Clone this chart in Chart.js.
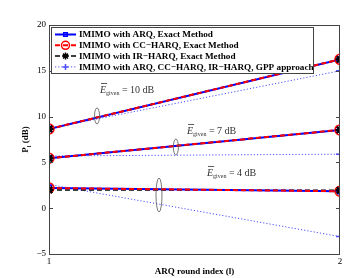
<!DOCTYPE html>
<html>
<head>
<meta charset="UTF-8">
<script src="https://cdn.jsdelivr.net/npm/chart.js"></script>
<style>
  html, body { margin: 0; padding: 0; background: #fff; }
  #wrap { width: 348px; height: 278px; }
</style>
</head>
<body>
<div id="wrap"><canvas id="grafico"></canvas></div>
<script>
// ARQ round index
const rounds = [1, 2];
const yTicks = [-5, 0, 5, 10, 15, 20];

// E_given = 10 dB
const arq10 = [8.65, 16.25];
const cc10 = [8.65, 16.25];
const ir10 = [8.65, 16.25];
const gpp10 = [8.7, 15.0];
// E_given = 7 dB
const arq7 = [5.45, 8.55];
const cc7 = [5.45, 8.55];
const ir7 = [5.45, 8.55];
const gpp7 = [5.7, 5.9];
// E_given = 4 dB
const arq4 = [2.2, 1.85];
const cc4 = [2.2, 1.85];
const ir4 = [2.0, 1.95];
const gpp4 = [2.6, -3.1];

const legendLabels = [
  'IMIMO with ARQ, Exact Method',
  'IMIMO with CC\u2212HARQ, Exact Method',
  'IMIMO with IR\u2212HARQ, Exact Method',
  'IMIMO with ARQ, CC\u2212HARQ, IR\u2212HARQ, GPP approach'
];
const energyLabels = ['10 dB', '7 dB', '4 dB'];

const styles = {
  arq: { color: '#0000ff', dash: [], width: 2, point: 'rect', r: 3.5 },
  cc:  { color: '#ff0000', dash: [5, 3], width: 2, point: 'circle', r: 5 },
  ir:  { color: '#000000', dash: [5, 3], width: 1.5, point: 'star', r: 4.5 },
  gpp: { color: '#4d4dff', dash: [1.2, 2], width: 1, point: 'cross', r: 4 }
};

function serie(key, vals, onlyPoints) {
  const s = styles[key];
  return {
    data: rounds.map((x, i) => ({ x: x, y: vals[i] })),
    showLine: !onlyPoints,
    borderColor: s.color,
    borderDash: s.dash,
    borderWidth: s.width,
    pointStyle: s.point,
    pointRadius: s.r,
    pointBorderColor: s.color,
    pointBackgroundColor: 'rgba(0,0,0,0)',
    pointBorderWidth: key === 'ir' ? 2 : 1.5,
    tension: 0,
    fill: false
  };
}

// first dataset is drawn on top; IR markers sit above everything
const datasets = [
  serie('ir', ir10, true), serie('ir', ir7, true), serie('ir', ir4, true),
  serie('cc', cc10), serie('cc', cc7), serie('cc', cc4),
  serie('arq', arq10), serie('arq', arq7), serie('arq', arq4),
  serie('ir', ir10), serie('ir', ir7), serie('ir', ir4),
  serie('gpp', gpp10), serie('gpp', gpp7), serie('gpp', gpp4)
];

const SERIF = '"Liberation Serif", "DejaVu Serif", serif';

// frame, inward ticks, titles, legend and annotations
const extras = {
  id: 'extras',
  afterDraw(chart) {
    const ctx = chart.ctx;
    const a = chart.chartArea;
    const xs = chart.scales.x, ys = chart.scales.y;
    ctx.save();
    ctx.strokeStyle = '#444';
    ctx.lineWidth = 1;
    ctx.setLineDash([]);
    ctx.strokeRect(a.left + 0.5, a.top + 0.5, a.right - a.left - 1, a.bottom - a.top);
    ctx.beginPath();
    yTicks.forEach(v => {
      const y = Math.round(ys.getPixelForValue(v)) + 0.5;
      ctx.moveTo(a.left, y); ctx.lineTo(a.left + 4, y);
      ctx.moveTo(a.right, y); ctx.lineTo(a.right - 4, y);
    });
    ctx.stroke();

    // axis titles
    ctx.fillStyle = '#000';
    ctx.font = 'bold 9px ' + SERIF;
    ctx.textAlign = 'center';
    ctx.textBaseline = 'alphabetic';
    ctx.fillText('ARQ round index (l)', (a.left + a.right) / 2, 274);
    ctx.save();
    ctx.translate(28, (a.top + a.bottom) / 2);
    ctx.rotate(-Math.PI / 2);
    ctx.textAlign = 'left';
    const w1 = ctx.measureText('P').width;
    ctx.font = 'bold 6px ' + SERIF;
    const w2 = ctx.measureText('l').width;
    ctx.font = 'bold 9px ' + SERIF;
    const w3 = ctx.measureText(' (dB)').width;
    let x0 = -(w1 + w2 + w3) / 2;
    ctx.fillText('P', x0, 0);
    ctx.font = 'bold 6px ' + SERIF;
    ctx.fillText('l', x0 + w1, 2.5);
    ctx.font = 'bold 9px ' + SERIF;
    ctx.fillText(' (dB)', x0 + w1 + w2, 0);
    ctx.restore();

    // ellipses
    ctx.strokeStyle = '#555';
    ctx.lineWidth = 0.8;
    [[1.165, 10.07, 2.5, 8], [1.436, 6.68, 2.5, 8], [1.378, 1.44, 3, 17]].forEach(e => {
      ctx.beginPath();
      ctx.ellipse(xs.getPixelForValue(e[0]), ys.getPixelForValue(e[1]), e[2], e[3], 0, 0, Math.PI * 2);
      ctx.stroke();
    });

    // E_given labels
    ctx.fillStyle = '#333';
    ctx.strokeStyle = '#333';
    [[100, 93], [187, 134], [207, 176]].forEach((p, i) => {
      let x = p[0];
      ctx.font = 'italic 10px ' + SERIF;
      ctx.textAlign = 'left';
      ctx.fillText('E', x, p[1]);
      const we = ctx.measureText('E').width;
      ctx.beginPath();
      ctx.moveTo(x + 1, p[1] - 9.5); ctx.lineTo(x + we + 1, p[1] - 9.5);
      ctx.stroke();
      x += we;
      ctx.font = '6px ' + SERIF;
      ctx.fillText('given', x, p[1] + 2);
      x += ctx.measureText('given').width;
      ctx.font = '10px ' + SERIF;
      ctx.fillText(' = ' + energyLabels[i], x, p[1]);
    });

    // legend
    const lx = 51, ly = 27, lw = 262, lh = 46;
    ctx.fillStyle = '#fff';
    ctx.fillRect(lx, ly, lw, lh);
    ctx.strokeStyle = '#444';
    ctx.lineWidth = 1;
    ctx.strokeRect(lx + 0.5, ly + 0.5, lw, lh);
    ['arq', 'cc', 'ir', 'gpp'].forEach((k, i) => {
      const s = styles[k];
      const y = ly + 7.5 + i * 10.8;
      ctx.strokeStyle = s.color;
      ctx.lineWidth = s.width;
      ctx.setLineDash(s.dash);
      ctx.beginPath();
      ctx.moveTo(lx + 4, y); ctx.lineTo(lx + 25, y);
      ctx.stroke();
      ctx.setLineDash([]);
      ctx.fillStyle = 'rgba(0,0,0,0)';
      ctx.strokeStyle = s.color;
      ctx.lineWidth = 1.5;
      Chart.helpers.drawPoint(ctx, {
        pointStyle: s.point, radius: s.r - 1, borderWidth: 1.5, rotation: 0
      }, lx + 14.5, y);
      ctx.fillStyle = '#000';
      ctx.font = 'bold 9.2px ' + SERIF;
      ctx.textAlign = 'left';
      ctx.textBaseline = 'middle';
      ctx.fillText(legendLabels[i], lx + 28, y + 0.5);
    });
    ctx.restore();
  }
};

new Chart(document.getElementById('grafico'), {
  type: 'line',
  data: { datasets: datasets },
  options: {
    responsive: true,
    maintainAspectRatio: false,
    animation: false,
    layout: { padding: { top: 25, right: 8, left: 0, bottom: 0 } },
    plugins: { legend: { display: false }, tooltip: { enabled: false } },
    scales: {
      x: {
        type: 'linear', min: 1, max: 2,
        grid: { display: false, drawTicks: false },
        border: { display: false },
        afterFit: s => { s.height = 24; },
        ticks: {
          stepSize: 1, padding: 2, color: '#000',
          font: { family: SERIF, size: 9 }
        }
      },
      y: {
        min: -5, max: 20,
        grid: { display: false, drawTicks: false },
        border: { display: false },
        afterFit: s => { s.width = 49; },
        afterBuildTicks: s => { s.ticks = yTicks.map(v => ({ value: v })); },
        ticks: {
          padding: 3, color: '#000',
          font: { family: SERIF, size: 9 },
          callback: v => String(v).replace('-', '\u2212')
        }
      }
    }
  },
  plugins: [extras]
});
</script>
</body>
</html>
